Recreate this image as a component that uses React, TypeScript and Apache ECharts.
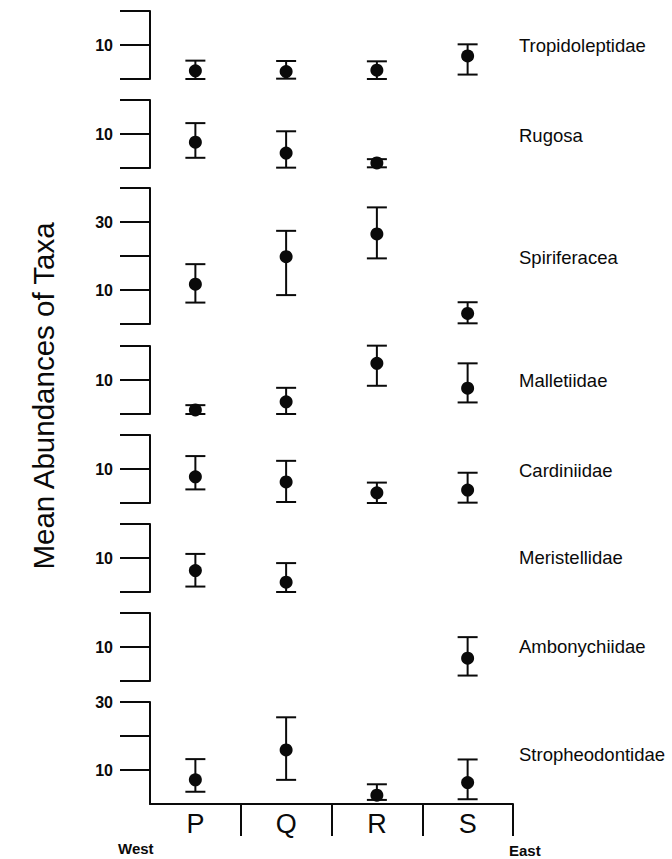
import { useEffect, useRef } from 'react';
import * as echarts from 'echarts';

// Sampling stations, west to east
const stations = ['P', 'Q', 'R', 'S'];

const taxa = [
  'Tropidoleptidae',
  'Rugosa',
  'Spiriferacea',
  'Malletiidae',
  'Cardiniidae',
  'Meristellidae',
  'Ambonychiidae',
  'Stropheodontidae',
];

// Upper end of each panel's abundance axis
const axisMax = [20, 20, 40, 20, 20, 20, 20, 30];
// Tick values that carry a printed label
const labelledTicks = [[10], [10], [10, 30], [10], [10], [10], [10], [10, 30]];

// Mean abundance per taxon (rows) and station (columns); null = taxon absent
const means = [
  [2.4, 2.2, 2.6, 6.8],
  [7.6, 4.4, 1.5, null],
  [11.7, 19.8, 26.5, 3.1],
  [1.2, 3.6, 14.9, 7.6],
  [7.7, 6.2, 3.0, 3.8],
  [6.3, 2.9, null, null],
  [null, null, null, 6.7],
  [7.1, 15.9, 2.6, 6.3],
];

const lowerBounds = [
  [0, 0.1, 0, 1.3],
  [3.0, 0.1, 0.2, null],
  [6.3, 8.5, 19.3, 0.2],
  [0, 0, 8.3, 3.4],
  [4.0, 0.3, 0, 0.1],
  [1.6, 0, null, null],
  [null, null, null, 1.6],
  [3.6, 7.1, 1.2, 1.4],
];

const upperBounds = [
  [5.4, 5.3, 5.2, 10.2],
  [13.2, 10.8, 2.6, null],
  [17.6, 27.4, 34.3, 6.4],
  [2.6, 7.7, 20.1, 14.9],
  [13.8, 12.4, 6.0, 8.9],
  [11.2, 8.5, null, null],
  [null, null, null, 12.9],
  [13.2, 25.5, 5.8, 13.1],
];

// Panel layout (pixels)
const panelTops = [11, 100, 188, 346, 435, 524, 613, 702];
const pxPerUnit = 3.4;
const taxonLabelY = [45, 135, 257, 380, 470, 557, 646, 754];

const FONT = '"Liberation Sans", Arial, Helvetica, sans-serif';
const INK = '#0a0a0a';

export default function App() {
  const ref = useRef<HTMLDivElement>(null);

  useEffect(() => {
    document.body.style.margin = '0';
    if (!ref.current) return;
    const chart = echarts.init(ref.current, null, { renderer: 'svg' });
    const last = taxa.length - 1;

    const grid = taxa.map((_, i) => ({
      left: 150,
      width: 363,
      top: panelTops[i],
      height: axisMax[i] * pxPerUnit,
      containLabel: false,
    }));

    const xAxis = taxa.map((_, i) => {
      const shown = i === last;
      return {
        type: 'category',
        gridIndex: i,
        data: stations,
        boundaryGap: true,
        show: shown,
        axisLine: { show: shown, lineStyle: { color: INK, width: 2 } },
        axisTick: {
          show: shown,
          inside: false,
          length: 32,
          interval: (idx: number) => idx !== 0,
          lineStyle: { color: INK, width: 2 },
        },
        axisLabel: {
          show: shown,
          color: INK,
          fontSize: 27,
          fontFamily: FONT,
          margin: 6,
        },
        splitLine: { show: false },
      };
    });

    const yAxis = taxa.map((_, i) => {
      const ticks: any = {
        show: true,
        inside: false,
        length: 30,
        lineStyle: { color: INK, width: 2 },
      };
      if (i === last) ticks.customValues = [10, 20, 30];
      return {
        type: 'value',
        gridIndex: i,
        min: 0,
        max: axisMax[i],
        interval: 10,
        axisLine: { show: true, lineStyle: { color: INK, width: 2 } },
        axisTick: ticks,
        axisLabel: {
          color: INK,
          fontSize: 16,
          fontWeight: 'bold',
          fontFamily: FONT,
          margin: 37,
          formatter: (v: number) => (labelledTicks[i].includes(v) ? String(v) : ''),
        },
        splitLine: { show: false },
      };
    });

    const series: any[] = [];
    taxa.forEach((name, i) => {
      const bars: number[][] = [];
      const dots: number[][] = [];
      stations.forEach((_, j) => {
        const m = means[i][j];
        const lo = lowerBounds[i][j];
        const hi = upperBounds[i][j];
        if (m == null || lo == null || hi == null) return;
        bars.push([j, lo, hi]);
        dots.push([j, m]);
      });
      series.push({
        name: name + ' range',
        type: 'custom',
        xAxisIndex: i,
        yAxisIndex: i,
        clip: false,
        encode: { x: 0, y: [1, 2] },
        data: bars,
        renderItem: (_params: any, api: any) => {
          const x = api.value(0);
          const lo = api.coord([x, api.value(1)]);
          const hi = api.coord([x, api.value(2)]);
          const half = 10;
          const style = { stroke: INK, lineWidth: 2, fill: 'none' };
          return {
            type: 'group',
            children: [
              { type: 'line', shape: { x1: lo[0], y1: lo[1], x2: hi[0], y2: hi[1] }, style },
              { type: 'line', shape: { x1: lo[0] - half, y1: lo[1], x2: lo[0] + half, y2: lo[1] }, style },
              { type: 'line', shape: { x1: hi[0] - half, y1: hi[1], x2: hi[0] + half, y2: hi[1] }, style },
            ],
          };
        },
        z: 2,
      });
      series.push({
        name: name + ' mean',
        type: 'scatter',
        xAxisIndex: i,
        yAxisIndex: i,
        data: dots,
        symbol: 'circle',
        symbolSize: 13,
        itemStyle: { color: INK, opacity: 1 },
        clip: false,
        z: 3,
      });
    });

    const graphic: any[] = taxa.map((name, i) => ({
      type: 'text',
      x: 519,
      y: taxonLabelY[i],
      style: {
        text: name,
        fill: INK,
        font: `18.5px ${FONT}`,
        align: 'left',
        verticalAlign: 'middle',
      },
    }));

    graphic.push({
      type: 'text',
      x: 43,
      y: 396,
      rotation: Math.PI / 2,
      style: {
        text: 'Mean Abundances of Taxa',
        fill: INK,
        font: `29.5px ${FONT}`,
        align: 'center',
        verticalAlign: 'middle',
      },
    });
    graphic.push({
      type: 'text',
      x: 118,
      y: 848,
      style: { text: 'West', fill: INK, font: `bold 15px ${FONT}`, align: 'left', verticalAlign: 'middle' },
    });
    graphic.push({
      type: 'text',
      x: 509,
      y: 850,
      style: { text: 'East', fill: INK, font: `bold 15px ${FONT}`, align: 'left', verticalAlign: 'middle' },
    });

    chart.setOption({
      animation: false,
      backgroundColor: '#fff',
      grid,
      xAxis,
      yAxis,
      series,
      graphic,
    });

    return () => {
      chart.dispose();
    };
  }, []);

  return <div ref={ref} style={{ width: 672, height: 859 }} />;
}
